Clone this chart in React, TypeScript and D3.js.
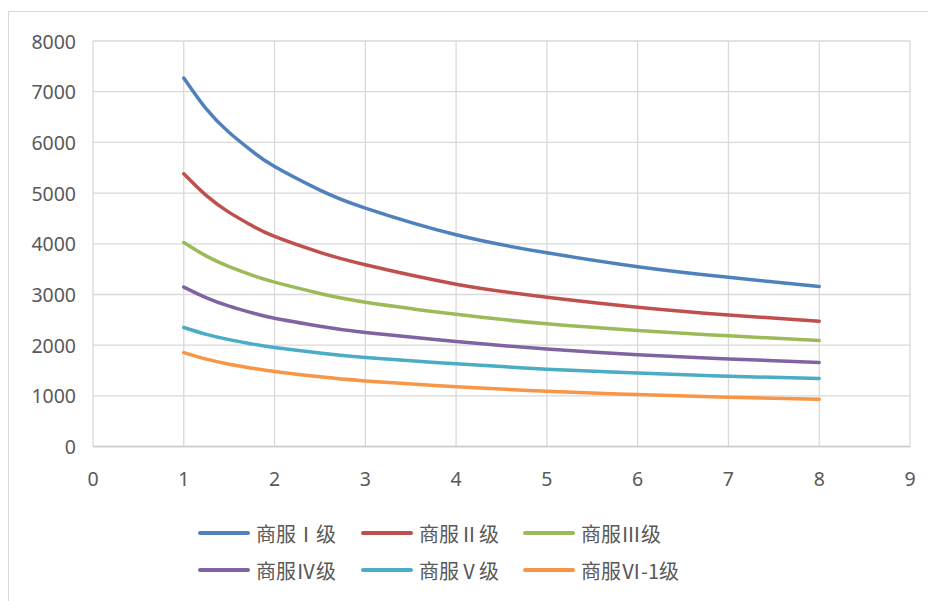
import React from "react";
import * as d3 from "d3";

// 年限 (x) 与各级别商服用地价格 (y)
const years = [1, 1.25, 1.5, 1.75, 2, 2.5, 3, 4, 5, 6, 7, 8];
const grade1 = [7270, 6655, 6195, 5830, 5525, 5060, 4705, 4178, 3822, 3548, 3338, 3160];
const grade2 = [5382, 4950, 4620, 4360, 4145, 3830, 3586, 3204, 2947, 2750, 2596, 2474];
const grade3 = [4026, 3757, 3550, 3382, 3243, 3020, 2849, 2610, 2421, 2289, 2185, 2092];
const grade4 = [3145, 2933, 2770, 2640, 2533, 2375, 2250, 2072, 1925, 1812, 1730, 1660];
const grade5 = [2349, 2214, 2110, 2025, 1954, 1847, 1758, 1632, 1528, 1450, 1388, 1342];
const grade6 = [1855, 1725, 1625, 1546, 1480, 1376, 1296, 1180, 1092, 1026, 974, 934];
const seriesNames = ["商服Ⅰ级", "商服Ⅱ级", "商服Ⅲ级", "商服Ⅳ级", "商服Ⅴ级", "商服Ⅵ-1级"];
const xTicks = [0, 1, 2, 3, 4, 5, 6, 7, 8, 9];
const yTicks = [0, 1000, 2000, 3000, 4000, 5000, 6000, 7000, 8000];

const seriesValues = [grade1, grade2, grade3, grade4, grade5, grade6];
const colors = ["#4F81BD", "#C0504D", "#9BBB59", "#8064A2", "#4BACC6", "#F79646"];

const W = 928;
const H = 601;

export default function App() {
  const x = d3.scaleLinear().domain([0, 9]).range([93, 910]);
  const y = d3.scaleLinear().domain([0, 8000]).range([446.6, 41]);

  const line = d3
    .line<[number, number]>()
    .x((d) => x(d[0]))
    .y((d) => y(d[1]))
    .curve(d3.curveNatural);

  const labelFont = "'Noto Sans', 'Open Sans', sans-serif";
  const legendFont = "'Noto Sans CJK SC', 'Noto Sans', sans-serif";

  // legend layout: 3 columns × 2 rows
  const legendCols = [200, 363, 525];
  const legendRows = [533, 570];

  return (
    <svg
      width={W}
      height={H}
      style={{ position: "absolute", left: 0, top: 0, background: "#fff" }}
    >
      {/* chart frame */}
      <rect x={8.5} y={11.5} width={W + 10} height={H + 10} fill="#fff" stroke="#D9D9D9" strokeWidth={1} />

      {/* gridlines */}
      {yTicks.map((t) => (
        <line key={"gy" + t} x1={x(0)} x2={x(9)} y1={y(t)} y2={y(t)} stroke="#D9D9D9" strokeWidth={1.3} />
      ))}
      {xTicks.map((t) => (
        <line key={"gx" + t} x1={x(t)} x2={x(t)} y1={y(0)} y2={y(8000)} stroke="#D9D9D9" strokeWidth={1.3} />
      ))}
      <line x1={x(0)} x2={x(9)} y1={y(0)} y2={y(0)} stroke="#C8C8C8" strokeWidth={1.5} />

      {/* y tick labels */}
      {yTicks.map((t) => (
        <text
          key={"ly" + t}
          x={76}
          y={y(t)}
          textAnchor="end"
          dominantBaseline="central"
          fontFamily={labelFont}
          fontSize={19.5}
          fill="#595959"
        >
          {t}
        </text>
      ))}

      {/* x tick labels */}
      {xTicks.map((t) => (
        <text
          key={"lx" + t}
          x={x(t)}
          y={478}
          textAnchor="middle"
          dominantBaseline="central"
          fontFamily={labelFont}
          fontSize={19.5}
          fill="#595959"
        >
          {t}
        </text>
      ))}

      {/* series */}
      {seriesValues.map((vals, i) => (
        <path
          key={"s" + i}
          d={line(years.map((yr, j) => [yr, vals[j]] as [number, number])) || ""}
          fill="none"
          stroke={colors[i]}
          strokeWidth={3.5}
          strokeLinecap="round"
        />
      ))}

      {/* legend */}
      {seriesNames.map((name, i) => {
        const cx = legendCols[i % 3];
        const cy = legendRows[Math.floor(i / 3)];
        return (
          <g key={"lg" + i}>
            <line x1={cx} x2={cx + 48} y1={cy} y2={cy} stroke={colors[i]} strokeWidth={4} strokeLinecap="round" />
            <text
              x={cx + 56}
              y={cy}
              dominantBaseline="central"
              fontFamily={legendFont}
              fontSize={20}
              fill="#595959"
            >
              {name}
            </text>
          </g>
        );
      })}
    </svg>
  );
}
